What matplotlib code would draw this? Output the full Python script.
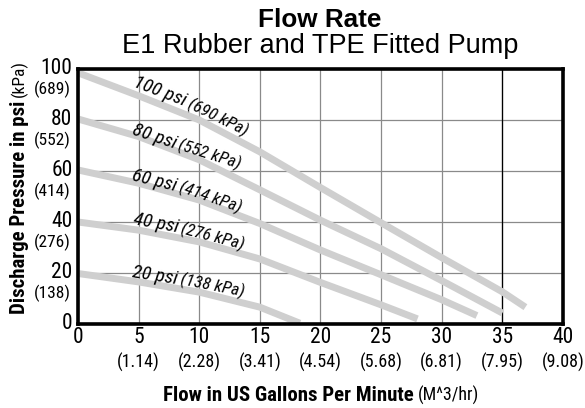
import os
import numpy as np
import matplotlib
matplotlib.use('Agg')
import matplotlib.pyplot as plt
from matplotlib import font_manager as fm

# ---- data ----
flow_100 = [0, 5, 10, 15, 20, 25, 30, 35, 36.9]
psi_100 = [98.5, 89.5, 80, 67.5, 53.5, 39.7, 26, 12.6, 6.6]
flow_80 = [0, 5, 10, 15, 20, 25, 30, 35]
psi_80 = [80.4, 73.5, 64.4, 52.6, 40.7, 29.5, 17, 4.3]
flow_60 = [0, 5, 10, 15, 20, 25, 30, 32.9]
psi_60 = [60.4, 55.2, 48.6, 39.4, 29.0, 19.3, 9.5, 3.3]
flow_40 = [0, 5, 10, 15, 20, 25, 28]
psi_40 = [40, 36.8, 32.2, 25.5, 16.3, 7.5, 2]
flow_20 = [0, 5, 10, 15, 18.3]
psi_20 = [19.8, 16.5, 12.5, 6.6, 0.3]

curve_psi = ['100 psi', '80 psi', '60 psi', '40 psi', '20 psi']
curve_kpa = ['(690 kPa)', '(552 kPa)', '(414 kPa)', '(276 kPa)', '(138 kPa)']

x_ticks = [0, 5, 10, 15, 20, 25, 30, 35, 40]
x_m3hr = ['', '(1.14)', '(2.28)', '(3.41)', '(4.54)', '(5.68)', '(6.81)', '(7.95)', '(9.08)']
y_ticks = [0, 20, 40, 60, 80, 100]
y_kpa = ['', '(138)', '(276)', '(414)', '(552)', '(689)']

# label placement: psi part (x, y, angle), kPa part angle (it follows the psi part)
psi_pos = [(4.5, 93.2, 21), (4.4, 74.5, 18.5), (4.4, 56.5, 14), (4.5, 39.1, 10.5), (4.4, 18.4, 9)]
kpa_ang = [26, 17.5, 19, 14.5, 11]


# condensed font lookup (by file name), falls back to DejaVu Sans
files = {os.path.basename(f.fname): f.fname for f in fm.fontManager.ttflist}
candidates = {
    'regular': ['LiberationSansNarrow-Regular.ttf', 'NotoSans-Condensed.ttf',
                'RobotoCondensed-Regular.ttf', 'DejaVuSansCondensed.ttf'],
    'bold': ['LiberationSansNarrow-Bold.ttf', 'NotoSans-CondensedBold.ttf',
             'RobotoCondensed-Bold.ttf', 'DejaVuSansCondensed-Bold.ttf'],
    'italic': ['LiberationSansNarrow-Italic.ttf', 'NotoSans-CondensedItalic.ttf',
               'RobotoCondensed-Italic.ttf', 'DejaVuSansCondensed-Oblique.ttf'],
}


def narrow(kind, size):
    for name in candidates[kind]:
        if name in files:
            return fm.FontProperties(fname=files[name], size=size)
    return fm.FontProperties(family='DejaVu Sans', size=size * 0.85,
                             weight='bold' if kind == 'bold' else 'normal',
                             style='italic' if kind == 'italic' else 'normal')


plain = ['Liberation Sans', 'DejaVu Sans']

fig = plt.figure(figsize=(5.85, 4.08), dpi=100)
ax = fig.add_axes([0.1333, 0.2059, 0.8291, 0.625])

curves = [(flow_100, psi_100), (flow_80, psi_80), (flow_60, psi_60),
          (flow_40, psi_40), (flow_20, psi_20)]
for fx, py in curves:
    ax.plot(fx, py, color='#cfcfcf', lw=5, solid_capstyle='butt',
            solid_joinstyle='round', zorder=3)

ax.set_xlim(0, 40)
ax.set_ylim(0, 100)
ax.set_xticks(x_ticks)
ax.set_xticklabels([str(v) for v in x_ticks], fontproperties=narrow('regular', 15.5))
ax.set_yticks(y_ticks)
ax.set_yticklabels([str(v) for v in y_ticks], fontproperties=narrow('regular', 15.5),
                   va='center')
ax.tick_params(axis='both', length=0)
ax.tick_params(axis='x', pad=2)
ax.tick_params(axis='y', pad=4)

ax.grid(True, color='#8a8a8a', lw=0.9, zorder=1)
ax.axvline(35, color='black', lw=0.9, zorder=1.5)
ax.set_axisbelow(True)
for s in ax.spines.values():
    s.set_linewidth(2.6)
    s.set_zorder(6)

# curve labels: psi part, then kPa part right after it
fig.canvas.draw()
renderer = fig.canvas.get_renderer()
psi_prop = narrow('italic', 14)
kpa_prop = narrow('italic', 12.5)
for i in range(len(curve_psi)):
    x, y, a = psi_pos[i]
    ax.text(x, y, curve_psi[i], rotation=-a, rotation_mode='anchor',
            ha='left', va='baseline', fontproperties=psi_prop, zorder=5)
    w, h, d = renderer.get_text_width_height_descent(curve_psi[i], psi_prop, ismath=False)
    px, py = ax.transData.transform((x, y))
    r = np.radians(a)
    ex, ey = px + (w + 3) * np.cos(r), py - (w + 3) * np.sin(r)
    kx, ky = ax.transData.inverted().transform((ex, ey))
    ax.text(kx, ky, curve_kpa[i], rotation=-kpa_ang[i], rotation_mode='anchor',
            ha='left', va='baseline', fontproperties=kpa_prop, zorder=5)

# secondary unit labels
for x, lab in zip(x_ticks, x_m3hr):
    ax.annotate(lab, xy=(x, 0), xycoords=ax.get_xaxis_transform(),
                xytext=(0, -28), textcoords='offset points',
                ha='center', va='center', fontproperties=narrow('regular', 13))
for y, lab in zip(y_ticks, y_kpa):
    ax.annotate(lab, xy=(0, y), xycoords=ax.get_yaxis_transform(),
                xytext=(-5, -15), textcoords='offset points',
                ha='right', va='center', fontproperties=narrow('regular', 12.5))

# titles
fig.text(0.547, 1 - 27 / 408, 'Flow Rate', ha='center', va='baseline',
         fontsize=18.8, fontweight='bold', family=plain)
fig.text(0.547, 1 - 53 / 408, 'E1 Rubber and TPE Fitted Pump', ha='center',
         va='baseline', fontsize=19.5, family=plain)

# axis labels (bold part + regular unit part)
fig.text(414 / 585, 1 - 401 / 408, 'Flow in US Gallons Per Minute', ha='right',
         va='baseline', fontproperties=narrow('bold', 15))
fig.text(418 / 585, 1 - 401 / 408, '(M^3/hr)', ha='left',
         va='baseline', fontproperties=narrow('regular', 13))
fig.text(20 / 585, 1 - 101 / 408, 'Discharge Pressure in psi', rotation=90,
         rotation_mode='anchor', ha='right', va='center',
         fontproperties=narrow('bold', 15))
fig.text(19 / 585, 1 - 97 / 408, '(kPa)', rotation=90,
         rotation_mode='anchor', ha='left', va='center',
         fontproperties=narrow('regular', 12.5))

fig.savefig('out.png', dpi=100)
